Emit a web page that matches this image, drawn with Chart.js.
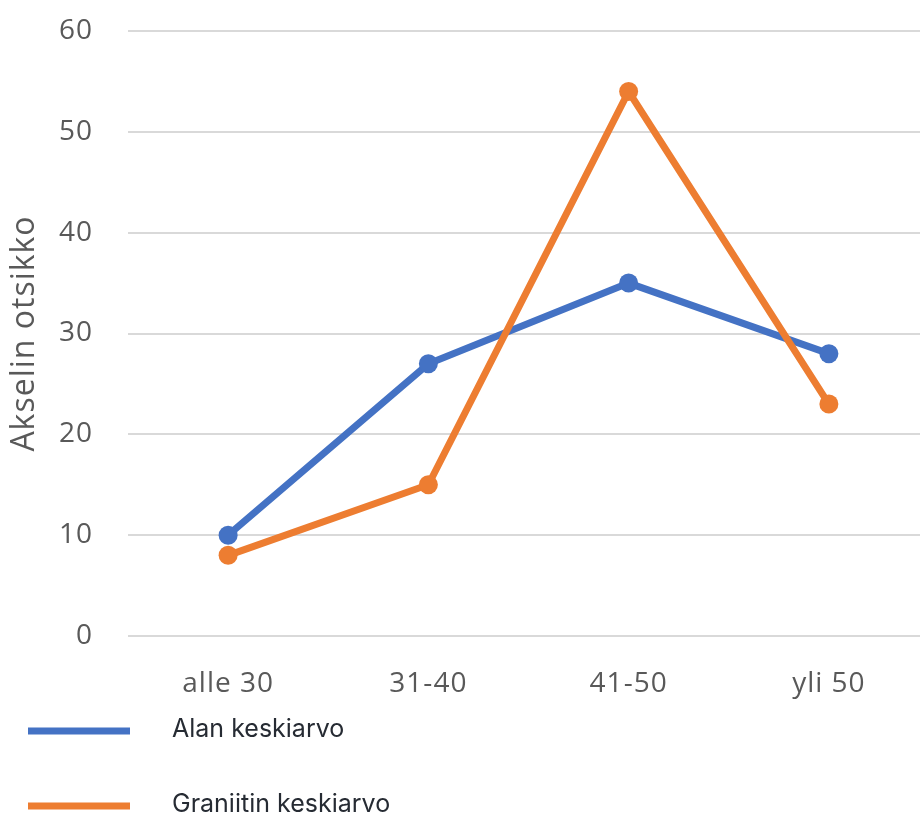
<!DOCTYPE html>
<html>
<head>
<meta charset="utf-8">
<script src="https://cdn.jsdelivr.net/npm/chart.js@4/dist/chart.umd.min.js"></script>
<style>
  html, body { margin: 0; padding: 0; background: #fff; overflow: hidden; }
  #c { display: block; }
</style>
</head>
<body>
<canvas id="c" width="920" height="814"></canvas>
<script>
const categories = ['alle 30', '31-40', '41-50', 'yli 50'];
const alanKeskiarvo = [10, 27, 35, 28];
const graniitinKeskiarvo = [8, 15, 54, 23];
const yTicks = [0, 10, 20, 30, 40, 50, 60];
const seriesNames = ['Alan keskiarvo', 'Graniitin keskiarvo'];
const axisTitle = 'Akselin otsikko';

const BLUE = '#4472C4';
const ORANGE = '#ED7D31';
const TICK_COLOR = '#595959';

// Each category sits at its index on a numeric x axis
const toPoints = values => values.map((v, i) => ({ x: i, y: v }));

// Slightly open tracking for the axis texts
const axisTracking = {
  id: 'axisTracking',
  beforeDraw(chart) { chart.ctx.letterSpacing = '1px'; }
};

// Legend drawn below the plot: a thick line sample followed by the series name
const lineLegend = {
  id: 'lineLegend',
  afterDraw(chart) {
    const ctx = chart.ctx;
    ctx.save();
    ctx.letterSpacing = '0px';
    chart.data.datasets.forEach((ds, i) => {
      const y = 731 + i * 75;
      ctx.strokeStyle = ds.borderColor;
      ctx.lineWidth = 7;
      ctx.lineCap = 'butt';
      ctx.beginPath();
      ctx.moveTo(28, y);
      ctx.lineTo(130, y);
      ctx.stroke();
      ctx.fillStyle = '#262b33';
      ctx.font = '25px Inter, "Open Sans", sans-serif';
      ctx.textBaseline = 'middle';
      ctx.textAlign = 'left';
      ctx.fillText(ds.label, 172, y - 2);
    });
    ctx.restore();
  }
};

new Chart(document.getElementById('c'), {
  type: 'line',
  data: {
    datasets: [
      {
        label: seriesNames[0],
        data: toPoints(alanKeskiarvo),
        borderColor: BLUE,
        backgroundColor: BLUE,
        borderWidth: 7,
        pointRadius: 9.5,
        pointHoverRadius: 9.5,
        pointBorderWidth: 0,
        tension: 0,
        clip: false,
        order: 2
      },
      {
        label: seriesNames[1],
        data: toPoints(graniitinKeskiarvo),
        borderColor: ORANGE,
        backgroundColor: ORANGE,
        borderWidth: 7,
        pointRadius: 9.5,
        pointHoverRadius: 9.5,
        pointBorderWidth: 0,
        tension: 0,
        clip: false,
        order: 1
      }
    ]
  },
  options: {
    responsive: false,
    animation: false,
    devicePixelRatio: 1,
    layout: { autoPadding: false, padding: { top: 31, bottom: 0, left: 0, right: 0 } },
    plugins: {
      legend: { display: false },
      tooltip: { enabled: false }
    },
    scales: {
      x: {
        type: 'linear',
        min: -0.5,
        max: 3.455,
        afterBuildTicks(scale) { scale.ticks = categories.map((c, i) => ({ value: i })); },
        grid: { display: false, drawTicks: false },
        border: { display: false },
        ticks: {
          color: TICK_COLOR,
          font: { family: '"Open Sans", sans-serif', size: 28 },
          padding: 31,
          maxRotation: 0,
          autoSkip: false,
          callback: value => categories[value]
        },
        afterFit(scale) {
          scale.height = 178;
          scale.paddingLeft = 0;
          scale.paddingRight = 0;
        }
      },
      y: {
        min: 0,
        max: 60,
        afterBuildTicks(scale) { scale.ticks = yTicks.map(v => ({ value: v })); },
        grid: { color: '#d9d9d9', lineWidth: 2, drawTicks: false },
        border: { display: false },
        ticks: {
          color: TICK_COLOR,
          font: { family: '"Open Sans", sans-serif', size: 28 },
          padding: 35
        },
        title: {
          display: true,
          text: axisTitle,
          color: TICK_COLOR,
          font: { family: '"Open Sans", sans-serif', size: 32 },
          padding: { top: 6, bottom: 0 }
        },
        afterFit(scale) {
          scale.width = 128;
          scale.paddingTop = 0;
          scale.paddingBottom = 0;
        }
      }
    }
  },
  plugins: [axisTracking, lineLegend]
});
</script>
</body>
</html>
